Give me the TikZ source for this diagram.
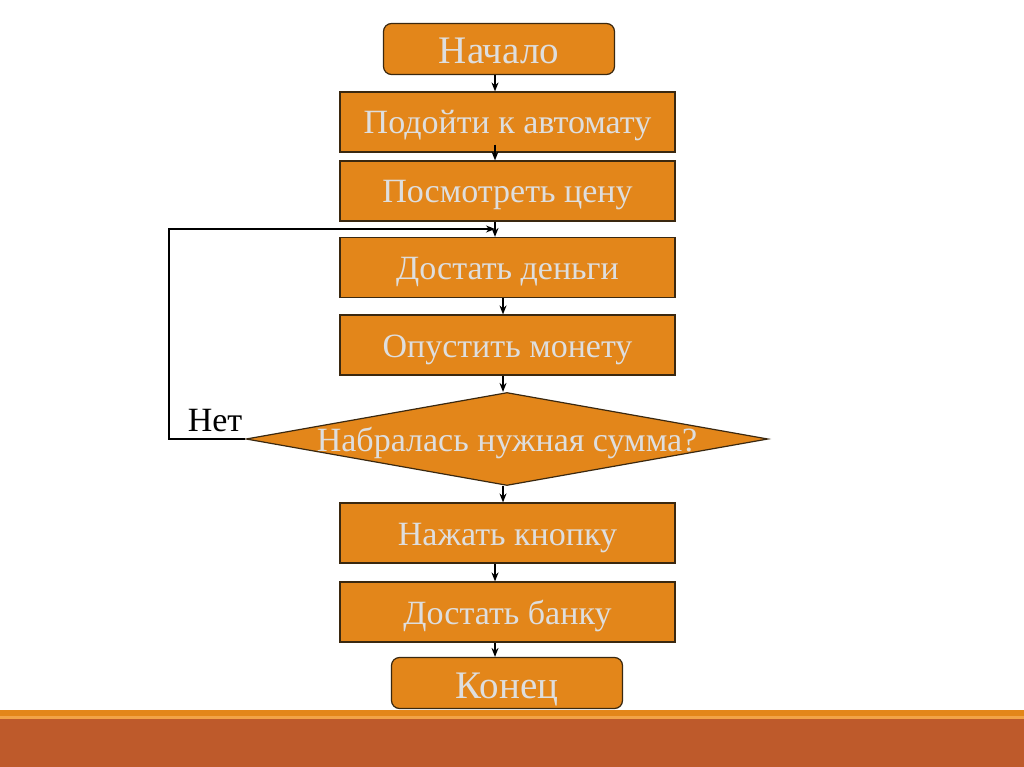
\documentclass[tikz,border=0pt]{standalone}
\usepackage{fontspec}
\setmainfont{Liberation Serif}
\usetikzlibrary{shapes.geometric,arrows.meta,calc}
\definecolor{boxfill}{HTML}{E3861A}
\definecolor{boxline}{HTML}{3A2810}
\definecolor{boxtext}{HTML}{DEDEDE}
\definecolor{barorange}{HTML}{E3861A}
\definecolor{barlight}{HTML}{F2A347}
\definecolor{barbrown}{HTML}{BE5A2B}
\tikzset{
  stepbox/.style={draw=boxline, line width=1.2pt, fill=boxfill, text=boxtext,
    minimum width=335pt, minimum height=60pt, inner sep=0pt,
    text height=26pt, text depth=2pt,
    font=\fontsize{34}{40}\selectfont},
  termbox/.style={draw=boxline, line width=1.2pt, fill=boxfill, text=boxtext,
    rounded corners=8pt, minimum width=231pt, minimum height=51pt, inner sep=0pt,
    text height=30pt, text depth=0pt,
    font=\fontsize{39}{46}\selectfont},
  decbox/.style={draw=boxline, line width=1.2pt, fill=boxfill, text=boxtext,
    diamond, aspect=7.5, minimum width=522pt, minimum height=93pt,
    inner ysep=0pt, inner xsep=-40pt,
    text height=26pt, text depth=2pt,
    font=\fontsize{34}{40}\selectfont},
  arr/.style={draw=black, line width=1.3pt, -{Stealth[length=9pt,width=7pt]}},
  plain/.style={draw=black, line width=1.3pt}
}
\begin{document}
\begin{tikzpicture}[x=1pt,y=-1pt]
\useasboundingbox (0,0) rectangle (1024,767);
\fill[white] (0,0) rectangle (1024,767);
% bottom bars
\fill[barorange] (0,710) rectangle (1024,716);
\fill[barlight] (0,716) rectangle (1024,719);
\fill[barbrown] (0,719) rectangle (1024,767);

\coordinate (ax) at (495,0);
\coordinate (bx) at (503,0);

\node[termbox] (start) at (499,49) {Начало};
\node[stepbox] (b1) at (507.5,122) {Подойти к автомату};
\node[stepbox] (b2) at (507.5,191) {Посмотреть цену};
\node[stepbox] (b3) at (507.5,267.5) {Достать деньги};
\node[stepbox] (b4) at (507.5,345) {Опустить монету};
\node[decbox] (dec) at (507,439) {Набралась нужная сумма?};
\node[stepbox] (b5) at (507.5,533) {Нажать кнопку};
\node[stepbox] (b6) at (507.5,612) {Достать банку};
\node[termbox] (end) at (507,683) {Конец};
\node[font=\fontsize{34}{40}\selectfont, text=black] (no) at (215,421) {Нет};

\coordinate (join) at (ax |- 0,229);
\coordinate (lc) at (169,0);

\draw[arr] (start.south -| ax) -- (b1.north -| ax);
\draw[arr] ($(b1.south -| ax)+(0,-8)$) -- (b2.north -| ax);
\draw[arr] (b2.south -| ax) -- (b3.north -| ax);
\draw[arr] (b3.south -| bx) -- (b4.north -| bx);
\draw[arr] (b4.south -| bx) -- (dec.north -| bx);
\draw[arr] (dec.south -| bx) -- (b5.north -| bx);
\draw[arr] (b5.south -| ax) -- (b6.north -| ax);
\draw[arr] (b6.south -| ax) -- (end.north -| ax);
\draw[arr] (dec.west) -- (lc |- dec.west) -- (lc |- join) -- (join);
\end{tikzpicture}
\end{document}
